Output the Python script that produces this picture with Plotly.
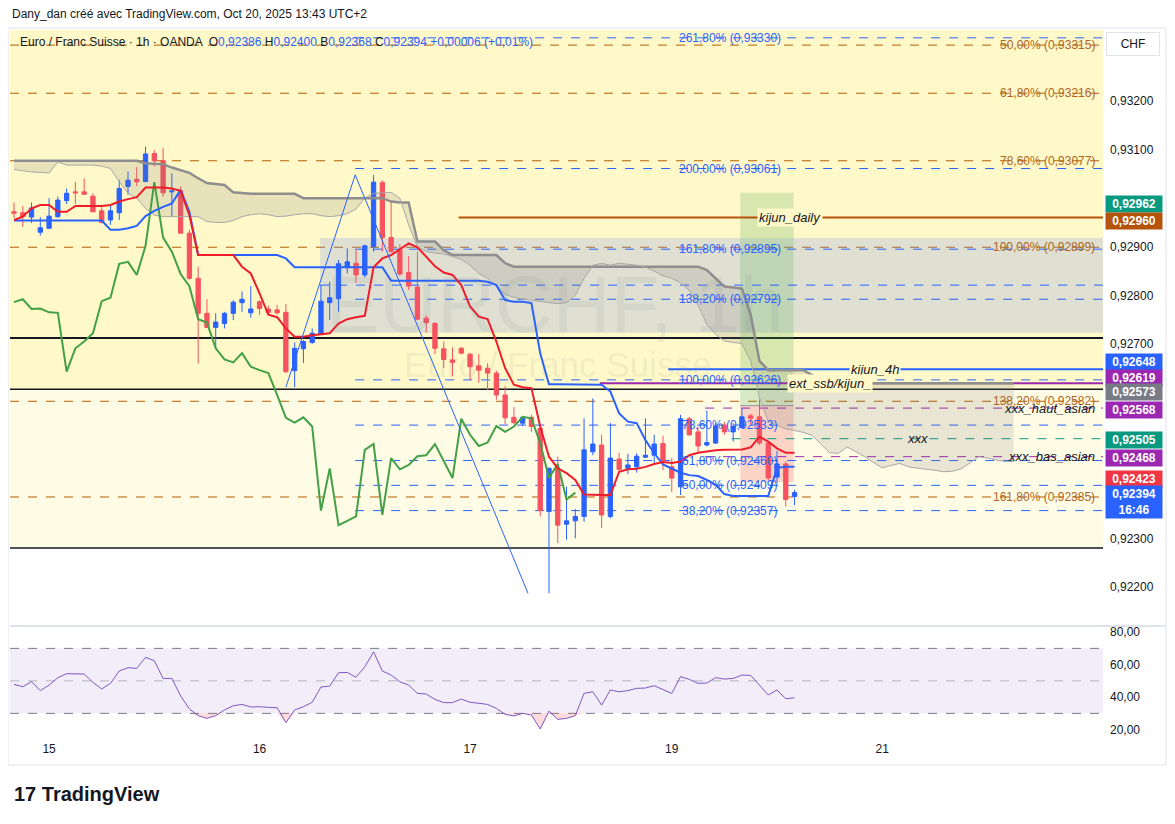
import plotly.graph_objects as go

# ---- EURCHF 1h (OANDA) values ----
bar_idx = list(range(90))
opens = [0.92972, 0.92970, 0.92961, 0.92930, 0.92938, 0.92962, 0.92995, 0.93013, 0.93013, 0.93004,
         0.92974, 0.92955, 0.92970, 0.93024, 0.93039, 0.93034, 0.93092, 0.93077, 0.93013, 0.93015,
         0.92928, 0.92835, 0.92763, 0.92734, 0.92742, 0.92763, 0.92785, 0.92764, 0.92787, 0.92772,
         0.92770, 0.92765, 0.92645, 0.92690, 0.92703, 0.92720, 0.92785, 0.92793, 0.92858, 0.92866,
         0.92842, 0.92900, 0.93032, 0.92919, 0.92893, 0.92847, 0.92817, 0.92753, 0.92742, 0.92690,
         0.92667, 0.92691, 0.92679, 0.92655, 0.92650, 0.92640, 0.92595, 0.92549, 0.92537, 0.92549,
         0.92526, 0.92355, 0.92444, 0.92329, 0.92336, 0.92345, 0.92478, 0.92492, 0.92345, 0.92463,
         0.92444, 0.92447, 0.92467, 0.92471, 0.92495, 0.92447, 0.92406, 0.92546, 0.92519, 0.92492,
         0.92496, 0.92533, 0.92519, 0.92528, 0.92552, 0.92550, 0.92496, 0.92426, 0.92453, 0.92386]
highs = [0.92991, 0.92984, 0.92991, 0.92961, 0.93000, 0.93003, 0.93020, 0.93034, 0.93041, 0.93010,
         0.92982, 0.92987, 0.93037, 0.93055, 0.93064, 0.93106, 0.93099, 0.93103, 0.93051, 0.93024,
         0.92935, 0.92859, 0.92792, 0.92763, 0.92766, 0.92790, 0.92808, 0.92819, 0.92790, 0.92779,
         0.92780, 0.92782, 0.92703, 0.92708, 0.92732, 0.92821, 0.92828, 0.92873, 0.92897, 0.92895,
         0.92904, 0.93048, 0.93037, 0.92995, 0.92905, 0.92881, 0.92890, 0.92758, 0.92745, 0.92705,
         0.92693, 0.92694, 0.92681, 0.92679, 0.92660, 0.92645, 0.92613, 0.92570, 0.92550, 0.92554,
         0.92528, 0.92446, 0.92468, 0.92406, 0.92360, 0.92547, 0.92588, 0.92513, 0.92537, 0.92476,
         0.92474, 0.92475, 0.92547, 0.92513, 0.92511, 0.92465, 0.92554, 0.92550, 0.92529, 0.92563,
         0.92538, 0.92540, 0.92537, 0.92568, 0.92556, 0.92586, 0.92499, 0.92480, 0.92458, 0.92400]
lows = [0.92959, 0.92941, 0.92949, 0.92923, 0.92938, 0.92959, 0.92988, 0.92988, 0.93007, 0.92972,
        0.92948, 0.92945, 0.92955, 0.93007, 0.93025, 0.93034, 0.93065, 0.93003, 0.92962, 0.92928,
        0.92832, 0.92660, 0.92733, 0.92691, 0.92732, 0.92749, 0.92766, 0.92754, 0.92760, 0.92760,
        0.92760, 0.92640, 0.92611, 0.92661, 0.92700, 0.92718, 0.92749, 0.92766, 0.92845, 0.92826,
        0.92837, 0.92890, 0.92890, 0.92888, 0.92840, 0.92811, 0.92749, 0.92723, 0.92679, 0.92650,
        0.92633, 0.92679, 0.92626, 0.92620, 0.92605, 0.92585, 0.92535, 0.92535, 0.92531, 0.92519,
        0.92345, 0.92187, 0.92290, 0.92297, 0.92300, 0.92334, 0.92471, 0.92321, 0.92341, 0.92437,
        0.92432, 0.92435, 0.92465, 0.92454, 0.92440, 0.92395, 0.92389, 0.92511, 0.92474, 0.92489,
        0.92494, 0.92513, 0.92499, 0.92527, 0.92535, 0.92492, 0.92420, 0.92413, 0.92365, 0.92368]
closes = [0.92969, 0.92962, 0.92980, 0.92939, 0.92963, 0.92996, 0.93010, 0.93011, 0.93008, 0.92972,
          0.92950, 0.92974, 0.93020, 0.93037, 0.93034, 0.93091, 0.93077, 0.93011, 0.93015, 0.92928,
          0.92835, 0.92763, 0.92734, 0.92745, 0.92763, 0.92786, 0.92792, 0.92772, 0.92773, 0.92765,
          0.92764, 0.92643, 0.92691, 0.92705, 0.92722, 0.92788, 0.92795, 0.92865, 0.92869, 0.92842,
          0.92902, 0.93033, 0.92919, 0.92890, 0.92844, 0.92819, 0.92751, 0.92744, 0.92691, 0.92668,
          0.92662, 0.92681, 0.92653, 0.92646, 0.92640, 0.92595, 0.92548, 0.92538, 0.92549, 0.92530,
          0.92357, 0.92444, 0.92327, 0.92336, 0.92345, 0.92482, 0.92494, 0.92348, 0.92465, 0.92442,
          0.92451, 0.92469, 0.92471, 0.92494, 0.92460, 0.92424, 0.92546, 0.92513, 0.92490, 0.92497,
          0.92531, 0.92519, 0.92530, 0.92550, 0.92547, 0.92496, 0.92424, 0.92453, 0.92380, 0.92394]

# ichimoku
tenkan = [0.92955, 0.92962, 0.92979, 0.92986, 0.92986, 0.92972, 0.92972, 0.92984, 0.92984, 0.92984,
          0.92984, 0.92986, 0.92993, 0.92998, 0.93002, 0.93022, 0.93022, 0.93022, 0.93020, 0.93015,
          0.92965, 0.92883, 0.92883, 0.92883, 0.92883, 0.92883, 0.92859, 0.92845, 0.92804, 0.92760,
          0.92755, 0.92732, 0.92715, 0.92715, 0.92718, 0.92720, 0.92722, 0.92742, 0.92751, 0.92755,
          0.92758, 0.92858, 0.92876, 0.92883, 0.92895, 0.92907, 0.92899, 0.92880, 0.92860, 0.92847,
          0.92842, 0.92821, 0.92777, 0.92756, 0.92751, 0.92705, 0.92650, 0.92616, 0.92611, 0.92609,
          0.92530, 0.92468, 0.92444, 0.92434, 0.92420, 0.92390, 0.92389, 0.92389, 0.92389, 0.92437,
          0.92442, 0.92443, 0.92447, 0.92453, 0.92457, 0.92455, 0.92458, 0.92471, 0.92476, 0.92479,
          0.92481, 0.92482, 0.92483, 0.92483, 0.92487, 0.92509, 0.92499, 0.92485, 0.92476, 0.92476]
kijun = [0.92954, 0.92954, 0.92954, 0.92954, 0.92954, 0.92954, 0.92954, 0.92954, 0.92954, 0.92954,
         0.92954, 0.92935, 0.92935, 0.92938, 0.92943, 0.92963, 0.92974, 0.92982, 0.92989, 0.93017,
         0.92972, 0.92883, 0.92883, 0.92883, 0.92883, 0.92883, 0.92883, 0.92883, 0.92883, 0.92883,
         0.92883, 0.92876, 0.92858, 0.92858, 0.92858, 0.92858, 0.92858, 0.92858, 0.92858, 0.92858,
         0.92858, 0.92858, 0.92858, 0.92830, 0.92830, 0.92830, 0.92830, 0.92830, 0.92830, 0.92830,
         0.92830, 0.92830, 0.92830, 0.92830, 0.92828, 0.92821, 0.92790, 0.92787, 0.92787, 0.92784,
         0.92681, 0.92617, 0.92617, 0.92617, 0.92617, 0.92617, 0.92617, 0.92616, 0.92602, 0.92557,
         0.92540, 0.92537, 0.92502, 0.92475, 0.92452, 0.92443, 0.92435, 0.92430, 0.92428, 0.92420,
         0.92410, 0.92391, 0.92387, 0.92387, 0.92387, 0.92387, 0.92387, 0.92445, 0.92447, 0.92447]
span_idx = list(range(115))
senkou_a = [0.93059, 0.93056, 0.93054, 0.93053, 0.93052, 0.93075, 0.93068, 0.93068, 0.93068, 0.93068,
            0.93066, 0.93061, 0.93034, 0.93010, 0.93000, 0.92979, 0.92965, 0.92962, 0.92962, 0.92962,
            0.92962, 0.92962, 0.92952, 0.92950, 0.92950, 0.92954, 0.92962, 0.92966, 0.92968, 0.92966,
            0.92962, 0.92963, 0.92966, 0.92968, 0.92968, 0.92964, 0.92962, 0.92964, 0.92968, 0.92978,
            0.93000, 0.93010, 0.93011, 0.93012, 0.93000, 0.92945, 0.92900, 0.92890, 0.92887, 0.92885,
            0.92880, 0.92874, 0.92862, 0.92845, 0.92835, 0.92818, 0.92802, 0.92796, 0.92792, 0.92790,
            0.92787, 0.92785, 0.92783, 0.92785, 0.92800, 0.92835, 0.92862, 0.92866, 0.92862, 0.92866,
            0.92864, 0.92862, 0.92858, 0.92850, 0.92840, 0.92835, 0.92826, 0.92810, 0.92780, 0.92740,
            0.92720, 0.92706, 0.92703, 0.92701, 0.92665, 0.92590, 0.92540, 0.92532, 0.92525, 0.92522,
            0.92518, 0.92512, 0.92495, 0.92476, 0.92475, 0.92488, 0.92478, 0.92468, 0.92456, 0.92445,
            0.92450, 0.92454, 0.92447, 0.92444, 0.92442, 0.92440, 0.92437, 0.92438, 0.92443, 0.92455,
            0.92468, 0.92465, 0.92462, 0.92458, 0.92458]
senkou_b = [0.93077] * 15 + [
            0.93072, 0.93071, 0.93070, 0.93063, 0.93058, 0.93052, 0.93041, 0.93031, 0.93029, 0.93027,
            0.93012, 0.93010] + [0.93009] * 6 + [0.93000] * 10 + [
            0.92993, 0.92991, 0.92991, 0.92911, 0.92911, 0.92911, 0.92893] + [0.92883] * 6 + [
            0.92866] + [0.92859] * 22 + [
            0.92852, 0.92835, 0.92818, 0.92816, 0.92814, 0.92760, 0.92665] + [0.92646] * 5 + [
            0.92636, 0.92625] + [0.92619] * 22

rsi = [47.8, 46.4, 49.5, 44.0, 47.4, 52.0, 54.4, 54.4, 54.2, 49.1,
       45.0, 48.5, 56.1, 58.1, 57.7, 64.5, 62.4, 51.5, 51.5, 40.7,
       32.7, 28.6, 26.9, 28.6, 32.1, 34.7, 35.5, 33.9, 34.1, 33.7,
       33.5, 24.3, 32.1, 34.1, 36.8, 46.2, 46.8, 55.0, 55.2, 52.2,
       58.7, 67.9, 56.1, 53.6, 49.5, 47.4, 42.3, 41.9, 38.6, 36.6,
       36.6, 38.8, 36.8, 36.2, 35.5, 33.1, 29.4, 28.4, 30.0, 29.0,
       20.4, 31.4, 26.3, 26.9, 28.6, 42.3, 43.3, 35.1, 44.4, 43.3,
       44.0, 45.4, 45.6, 47.0, 44.4, 42.3, 52.6, 50.9, 48.5, 48.7,
       52.0, 51.1, 51.5, 53.6, 53.4, 47.0, 41.3, 44.4, 39.0, 39.6]

day_ticks = [4, 28, 52, 75, 99]
day_labels = ["15", "16", "17", "19", "21"]

# drawings
trend_x = [31.0, 38.9, 58.6]
trend_y = [0.92611, 0.93048, 0.92187]
ext_levels = ["261,80%", "200,00%", "161,80%", "138,20%", "100,00%", "78,60%", "61,80%", "50,00%", "38,20%"]
ext_prices = [0.93330, 0.93061, 0.92895, 0.92792, 0.92626, 0.92533, 0.92460, 0.92409, 0.92357]
ret_levels = ["50,00%", "61,80%", "78,60%", "100,00%", "138,20%", "161,80%"]
ret_prices = [0.93315, 0.93216, 0.93077, 0.92899, 0.92582, 0.92385]

UP = "#2962ff"
DOWN = "#f7525f"
BROWN = "#b45f06"
PURPLE = "#9c27b0"
TEAL = "#089981"
YELLOW = "#fff8c8"
CREAM = "#fffce6"
X_MIN, X_MAX = -0.456, 124.17
Y_MIN, Y_MAX = 0.921216, 0.933461
FONT = "Liberation Sans"

fig = go.Figure()

# cloud
fig.add_trace(go.Scatter(x=span_idx, y=senkou_b, mode="lines",
                         line=dict(color="#8e8e8e", width=2.5), yaxis="y"))
fig.add_trace(go.Scatter(x=span_idx, y=senkou_a, mode="lines", fill="tonexty",
                         fillcolor="rgba(120,120,120,0.17)",
                         line=dict(color="#a8a8a8", width=1), yaxis="y"))
# chikou = close displaced 25 bars back
fig.add_trace(go.Scatter(x=bar_idx[:len(closes) - 25], y=closes[25:], mode="lines",
                         line=dict(color="#43a047", width=2), yaxis="y"))
fig.add_trace(go.Scatter(x=bar_idx, y=kijun, mode="lines",
                         line=dict(color=UP, width=2), yaxis="y"))
fig.add_trace(go.Scatter(x=bar_idx, y=tenkan, mode="lines",
                         line=dict(color="#ef1c2a", width=2), yaxis="y"))
fig.add_trace(go.Scatter(x=trend_x, y=trend_y, mode="lines",
                         line=dict(color="#2962ff", width=1), yaxis="y"))
fig.add_trace(go.Candlestick(
    x=bar_idx, open=opens, high=highs, low=lows, close=closes,
    increasing=dict(line=dict(color=UP, width=1), fillcolor=UP),
    decreasing=dict(line=dict(color=DOWN, width=1), fillcolor=DOWN),
    whiskerwidth=0, yaxis="y"))

# rsi pane
fig.add_trace(go.Scatter(x=bar_idx, y=[30] * len(rsi), mode="lines",
                         line=dict(width=0), yaxis="y2", hoverinfo="skip"))
fig.add_trace(go.Scatter(x=bar_idx, y=[min(v, 30) for v in rsi], mode="lines",
                         fill="tonexty", fillcolor="rgba(242,54,69,0.18)",
                         line=dict(width=0), yaxis="y2", hoverinfo="skip"))
fig.add_trace(go.Scatter(x=bar_idx, y=rsi, mode="lines",
                         line=dict(color="#7e57c2", width=1), yaxis="y2"))

shapes = []


def hline(y, color, width=1, dash="solid", x0=None, x1=X_MAX, yref="y"):
    if x0 is None:
        shapes.append(dict(type="line", xref="paper", x0=0, x1=1, yref=yref, y0=y, y1=y,
                           line=dict(color=color, width=width, dash=dash), layer="below"))
    else:
        shapes.append(dict(type="line", xref="x", x0=x0, x1=x1, yref=yref, y0=y, y1=y,
                           line=dict(color=color, width=width, dash=dash), layer="below"))


# background zones
shapes.append(dict(type="rect", xref="paper", x0=0, x1=1, yref="y", y0=0.92607, y1=Y_MAX,
                   fillcolor=YELLOW, line=dict(width=0), layer="below"))
shapes.append(dict(type="rect", xref="paper", x0=0, x1=1, yref="y", y0=0.92280, y1=0.92607,
                   fillcolor=CREAM, line=dict(width=0), layer="below"))
shapes.append(dict(type="rect", xref="x", x0=34.9, x1=X_MAX, yref="y", y0=0.92723, y1=0.92918,
                   fillcolor="rgba(120,150,240,0.24)", line=dict(width=0), layer="below"))
# position tool
shapes.append(dict(type="rect", xref="x", x0=82.8, x1=88.9, yref="y", y0=0.92573, y1=0.93011,
                   fillcolor="rgba(76,175,80,0.22)", line=dict(width=0), layer="below"))
shapes.append(dict(type="rect", xref="x", x0=82.8, x1=88.9, yref="y", y0=0.92416, y1=0.92573,
                   fillcolor="rgba(242,54,69,0.2)", line=dict(width=0), layer="below"))
hline(0.92573, "#9598a1", 1, x0=82.8, x1=88.9)

hline(0.92712, "#131722", 2)
hline(0.92607, "#131722", 1.5)
hline(0.92280, "#131722", 1.5)

for p in ret_prices:
    hline(p, BROWN, 1, "dash")
for p in ext_prices:
    hline(p, "#2962ff", 1, "dash", x0=trend_x[1])
hline(0.92821, "#2962ff", 1, "dash", x0=34.9)

hline(0.92960, "#b45309", 2, x0=50.7)
hline(0.92648, "#2962ff", 2, x0=74.6)
hline(0.92619, PURPLE, 2, x0=66.8)
hline(0.92568, PURPLE, 1, "dash", x0=78.8)
hline(0.92505, TEAL, 1, "dash", x0=81.8)
hline(0.92468, PURPLE, 1, "dash", x0=78.8)

# rsi band + levels
shapes.append(dict(type="rect", xref="paper", x0=0, x1=1, yref="y2", y0=30, y1=70,
                   fillcolor="rgba(126,87,194,0.1)", line=dict(width=0), layer="below"))
hline(70, "#787b86", 1, "dash", yref="y2")
hline(50, "rgba(120,123,134,0.5)", 1, "dash", yref="y2")
hline(30, "#787b86", 1, "dash", yref="y2")

# frame and pane separator
shapes.append(dict(type="rect", xref="paper", yref="paper", x0=-0.0018, x1=1.0576,
                   y0=-0.0352, y1=1.0028, line=dict(color="#e0e3eb", width=1)))
shapes.append(dict(type="line", xref="paper", yref="paper", x0=0, x1=1.0576,
                   y0=0.1606, y1=0.1606, line=dict(color="#e0e3eb", width=2)))

ann = []
# watermark
ann.append(dict(text="EURCHF, 1h", xref="paper", yref="paper", x=0.4986, y=0.6127,
                yanchor="middle", showarrow=False,
                font=dict(size=80, color="rgba(120,123,134,0.10)", family=FONT)))
ann.append(dict(text="Euro / Franc Suisse", xref="paper", yref="paper", x=0.5005, y=0.5282,
                yanchor="middle", showarrow=False,
                font=dict(size=35, color="rgba(120,123,134,0.10)", family=FONT)))

for name, p in zip(ext_levels, ext_prices):
    ann.append(dict(text=f"{name} ({p:.5f})".replace(".", ","), xref="x", x=81.6, yref="y", y=p,
                    showarrow=False, font=dict(size=12, color="#2962ff", family=FONT)))
for name, p in zip(ret_levels, ret_prices):
    ann.append(dict(text=f"{name} ({p:.5f})".replace(".", ","), xref="paper", x=0.9945,
                    xanchor="right", yref="y", y=p, showarrow=False,
                    font=dict(size=12, color="#b0651e", family=FONT)))

line_tags = [("kijun_daily", 88.5, 0.92960, YELLOW), ("kijun_4h", 98.2, 0.92648, YELLOW),
             ("ext_ssb/kijun_", 93.0, 0.92619, YELLOW), ("xxx", 103.0, 0.92505, None)]
for t, xx, p, bg in line_tags:
    d = dict(text=f"<i>{t}</i>", xref="x", x=xx, yref="y", y=p, showarrow=False,
             font=dict(size=13, color="#131722", family=FONT))
    if bg:
        d["bgcolor"] = bg
    ann.append(d)
for t, p in [("xxx_haut_asian", 0.92568), ("xxx_bas_asian", 0.92468)]:
    ann.append(dict(text=f"<i>{t}</i>", xref="paper", x=0.9945, xanchor="right", yref="y", y=p,
                    showarrow=False, font=dict(size=13, color="#131722", family=FONT)))

# price-scale tags
tags = [("0,92962", 0.92962, TEAL, 13), ("0,92960", 0.92960, "#b45309", -3),
        ("0,92648", 0.92648, "#2962ff", 7), ("0,92619", 0.92619, PURPLE, 5),
        ("0,92573", 0.92573, "#787b86", 14), ("0,92568", 0.92568, PURPLE, -2),
        ("0,92505", 0.92505, TEAL, -1), ("0,92468", 0.92468, PURPLE, -1),
        ("0,92423", 0.92423, "#f23645", 0), ("0,92394<br>16:46", 0.92394, "#2962ff", -9)]
for t, p, c, sh in tags:
    ann.append(dict(text=f"<b>{t}</b>", xref="paper", x=1, xanchor="left", xshift=2,
                    yref="y", y=p, yshift=sh, showarrow=False, bgcolor=c, width=54,
                    borderpad=1, font=dict(size=12, color="white", family=FONT)))
ann.append(dict(text="CHF", xref="paper", x=1, xanchor="left", xshift=3, yref="paper", y=0.9803,
                yanchor="middle", showarrow=False, bgcolor="white", bordercolor="#e0e3eb",
                borderwidth=1, width=50, height=20, font=dict(size=12, color="#131722", family=FONT)))

# header, legend line, footer
ann.append(dict(text="Dany_dan créé avec TradingView.com, Oct 20, 2025 13:43 UTC+2",
                xref="paper", yref="paper", x=0, y=1.0225, xanchor="left", yanchor="middle",
                showarrow=False, font=dict(size=12, color="#131722", family=FONT)))
v = "<span style='color:#2962ff'>"
ann.append(dict(text="Euro / Franc Suisse · 1h · OANDA  "
                     f"O{v}0,92386</span> H{v}0,92400</span> B{v}0,92368</span> "
                     f"C{v}0,92394</span> {v}+0,00006 (+0,01%)</span>",
                xref="paper", yref="paper", x=0.0073, y=0.983, xanchor="left", yanchor="middle",
                showarrow=False, font=dict(size=12, color="#131722", family=FONT)))
ann.append(dict(text="<b>17 TradingView</b>", xref="paper", yref="paper", x=0.0018, y=-0.076,
                xanchor="left", yanchor="middle", showarrow=False,
                font=dict(size=20, color="#131722", family=FONT)))

# the page body adds an 8px margin, so the figure is 8px smaller and shifted
fig.update_layout(
    width=1167, height=816, separators=",.",
    margin=dict(l=2, r=72, t=22, b=84),
    paper_bgcolor="white", plot_bgcolor="white",
    showlegend=False, shapes=shapes, annotations=ann,
    font=dict(family=FONT, size=12, color="#131722"),
    xaxis=dict(range=[X_MIN, X_MAX], domain=[0, 1], anchor="y2", showgrid=False,
               zeroline=False, tickvals=day_ticks, ticktext=day_labels, ticks="",
               rangeslider=dict(visible=False), tickfont=dict(size=12, color="#131722")),
    yaxis=dict(range=[Y_MIN, Y_MAX], domain=[0.162, 1], anchor="x", side="right",
               showgrid=False, zeroline=False, ticks="", ticklabelstandoff=6,
               tickvals=[0.922, 0.923, 0.927, 0.928, 0.929, 0.931, 0.932], tickformat=".5f",
               tickfont=dict(size=12, color="#131722")),
    yaxis2=dict(range=[13.6, 83.1], domain=[0, 0.159], anchor="x", side="right",
                showgrid=False, zeroline=False, ticks="", ticklabelstandoff=6,
                tickvals=[20, 40, 60, 80], tickformat=".2f",
                tickfont=dict(size=12, color="#131722")),
)

fig.write_html("out.html")
